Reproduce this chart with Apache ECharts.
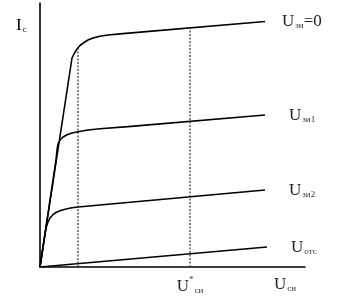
<!DOCTYPE html>
<html><head><meta charset="utf-8">
<script src="https://cdn.jsdelivr.net/npm/echarts@6/dist/echarts.min.js"></script>
<style>html,body{margin:0;padding:0;background:#fff}#c{width:345px;height:308px}</style>
</head><body><div id="c"></div>
<script>
// Data (x: U_си, y: I_с, arbitrary units)
var curveNames = ['Uзи=0', 'Uзи1', 'Uзи2', 'Uотс'];
var curve0 = [[0,0],[32,209],[34,213],[37,218],[40,221.5],[44,224.5],[48,227],[53,229],[60,230.8],[68,232],[80,233.1],[225,245.5]];
var curve1 = [[0,0],[16,107],[17,117],[18,123],[20,127],[23,130],[27,132.3],[32,134],[38,135.3],[48,137],[60,138.3],[88,140.4],[225,152]];
var curve2 = [[0,0],[5,33],[6,39],[8,45],[10,49],[13,52.3],[16,54.5],[20,56.3],[26,58],[32,59.2],[38,60],[225,77]];
var curve3 = [[0,0],[227,20]];
var boundary1 = [[38,0],[38,219]];
var boundary2 = [[150,0],[150,239]];
var xTickValues = [150, 245];
var xTickLabels = ['{u|U}{sup|*}{sub|си}', '{u|U}{sub|си}'];
var endLabels = ['{u|U}{sub|зи}{u|=0}', '{u|U}{sub|зи1}', '{u|U}{sub|зи2}', '{u|U}{sub|отс}'];

var FONT = '"Liberation Serif", "DejaVu Serif", serif';
var labelGap = [17, 24, 24, 24];
var rich = {
  u: {fontFamily: FONT, fontSize: 17, color: '#222', verticalAlign: 'bottom', lineHeight: 18},
  sub: {fontFamily: FONT, fontSize: 9, color: '#333', verticalAlign: 'bottom', lineHeight: 14, padding:[0,0,0,1]},
  sup: {fontFamily: FONT, fontSize: 9, color: '#333', verticalAlign: 'top', lineHeight: 20}
};
var curves = [curve0, curve1, curve2, curve3];
var series = curves.map(function (d, i) {
  return {
    type: 'line', name: curveNames[i], data: d, showSymbol: false, symbol: 'none',
    smooth: false,
    lineStyle: {color: '#000', width: 1.6},
    endLabel: {show: true, distance: labelGap[i], formatter: function () { return endLabels[i]; }, rich: rich},
    silent: true, animation: false
  };
});
[boundary1, boundary2].forEach(function (d) {
  series.push({type: 'line', data: d, symbol: 'none', lineStyle: {color: '#333', width: 1.2, type: [2, 1.5]}, animation: false, silent: true});
});
var chart = echarts.init(document.getElementById('c'), null, {renderer: 'canvas'});
chart.setOption({
  animation: false,
  grid: {left: 40, right: 40, top: 3, bottom: 41, containLabel: false},
  xAxis: {
    type: 'value', min: 0, max: 265,
    axisLine: {show: true, onZero: false, lineStyle: {color: '#000', width: 1.6}},
    axisTick: {show: false}, splitLine: {show: false},
    axisLabel: {show: true, customValues: xTickValues, margin: 8,
      formatter: function (v) { var k = xTickValues.indexOf(v); return k >= 0 ? xTickLabels[k] : ''; },
      rich: rich}
  },
  yAxis: {
    type: 'value', min: 0, max: 264,
    axisLine: {show: true, onZero: false, lineStyle: {color: '#000', width: 1.6}},
    axisTick: {show: false}, splitLine: {show: false}, axisLabel: {show: false}
  },
  graphic: [{type: 'text', left: 16, top: 17, style: {text: '{u|I}{sub|с}', rich: rich}}],
  series: series
});
</script></body></html>
